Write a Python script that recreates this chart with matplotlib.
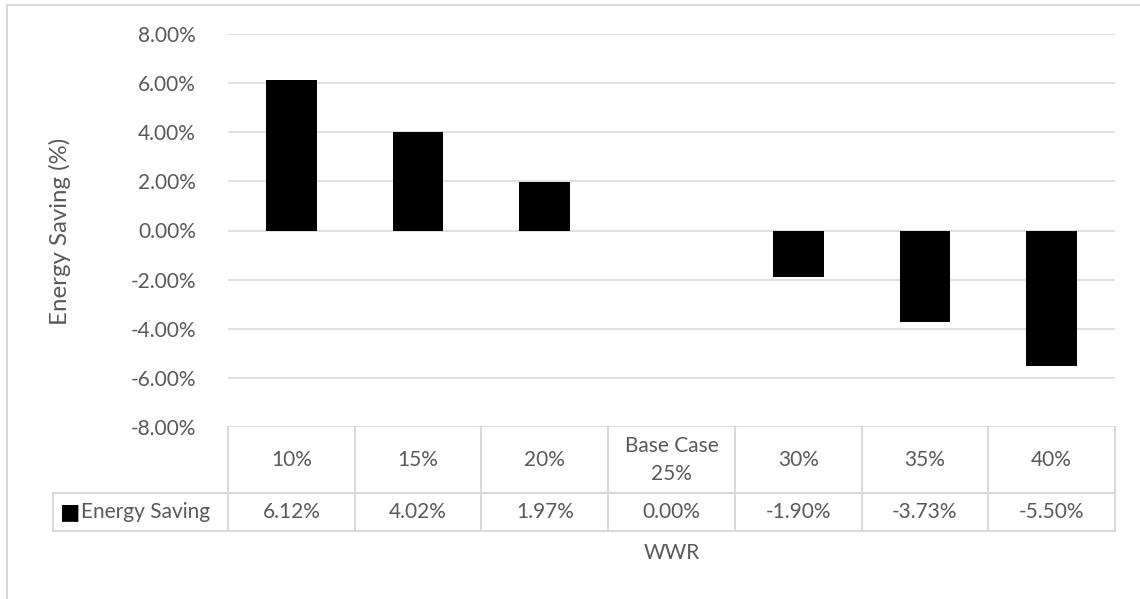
import matplotlib
matplotlib.use('Agg')
import matplotlib.pyplot as plt
import matplotlib.transforms as mtrans
from matplotlib.lines import Line2D

categories = ["10%", "15%", "20%", "Base Case\n25%", "30%", "35%", "40%"]
savings = [6.12, 4.02, 1.97, 0.00, -1.90, -3.73, -5.50]
series_name = "Energy Saving"
yticks = [-8, -6, -4, -2, 0, 2, 4, 6, 8]

plt.rcParams['font.family'] = ['Lato', 'DejaVu Sans']
txt = "#595959"
grid = "#d9d9d9"
fs = 15
W, H = 1140, 599

fig = plt.figure(figsize=(W / 100, H / 100), dpi=100)
# plot area in pixels: x 228..1115, y 34..427
ax = fig.add_axes([228 / W, 1 - 427 / H, (1115 - 228) / W, (427 - 34) / H])

x = list(range(len(categories)))
ax.bar(x, savings, width=0.4, color="black", zorder=3)
ax.set_xlim(-0.5, len(categories) - 0.5)
ax.set_ylim(yticks[0], yticks[-1])
ax.set_yticks(yticks)
ax.set_yticklabels([f"{v:.2f}%" for v in yticks])
ax.tick_params(axis='y', length=0, pad=23, labelsize=fs, labelcolor=txt)
ax.set_xticks([])
for s in ax.spines.values():
    s.set_visible(False)
ax.grid(True, axis='y', color=grid, linewidth=1.2, zorder=0)

fig.text(60 / W, 1 - 231 / H, "Energy Saving (%)", rotation=90, fontsize=17.3, color=txt,
         ha='center', va='center')

# data table under the plot (header row 427..493 px, value row 493..531 px)
blend = mtrans.blended_transform_factory(ax.transData, fig.transFigure)
y_top, y_mid, y_bot = 427, 493, 531
lk = dict(color=grid, linewidth=1.5, clip_on=False)
for i in range(len(categories) + 1):
    fig.add_artist(Line2D([i - 0.5, i - 0.5], [1 - y_top / H, 1 - y_bot / H], transform=blend, **lk))
for yy in (y_mid, y_bot):
    fig.add_artist(Line2D([53 / W, 1115 / W], [1 - yy / H, 1 - yy / H], transform=fig.transFigure, **lk))
fig.add_artist(Line2D([53 / W, 53 / W], [1 - y_mid / H, 1 - y_bot / H], transform=fig.transFigure, **lk))

for i, (c, v) in enumerate(zip(categories, savings)):
    fig.text(i, 1 - (y_top + y_mid) / 2 / H, c, transform=blend, ha='center', va='center',
             fontsize=fs, color=txt, linespacing=1.5)
    fig.text(i, 1 - (y_mid + y_bot) / 2 / H, f"{v:.2f}%", transform=blend, ha='center', va='center',
             fontsize=fs, color=txt)

fig.text(59 / W, 1 - (y_mid + y_bot) / 2 / H, "■", fontsize=15.5, color="black",
         ha='left', va='center', family=['DejaVu Sans'])
fig.text(81 / W, 1 - (y_mid + y_bot) / 2 / H, series_name, fontsize=fs, color=txt,
         ha='left', va='center')

fig.text((228 + 1115) / 2 / W, 1 - 553 / H, "WWR", fontsize=fs, color=txt, ha='center', va='center')

# chart border (only left and top visible)
fig.add_artist(Line2D([7 / W, 1], [1 - 5 / H, 1 - 5 / H], transform=fig.transFigure, color=grid, linewidth=1.5))
fig.add_artist(Line2D([7 / W, 7 / W], [0, 1 - 5 / H], transform=fig.transFigure, color=grid, linewidth=1.5))

fig.savefig("out.png", dpi=100)
